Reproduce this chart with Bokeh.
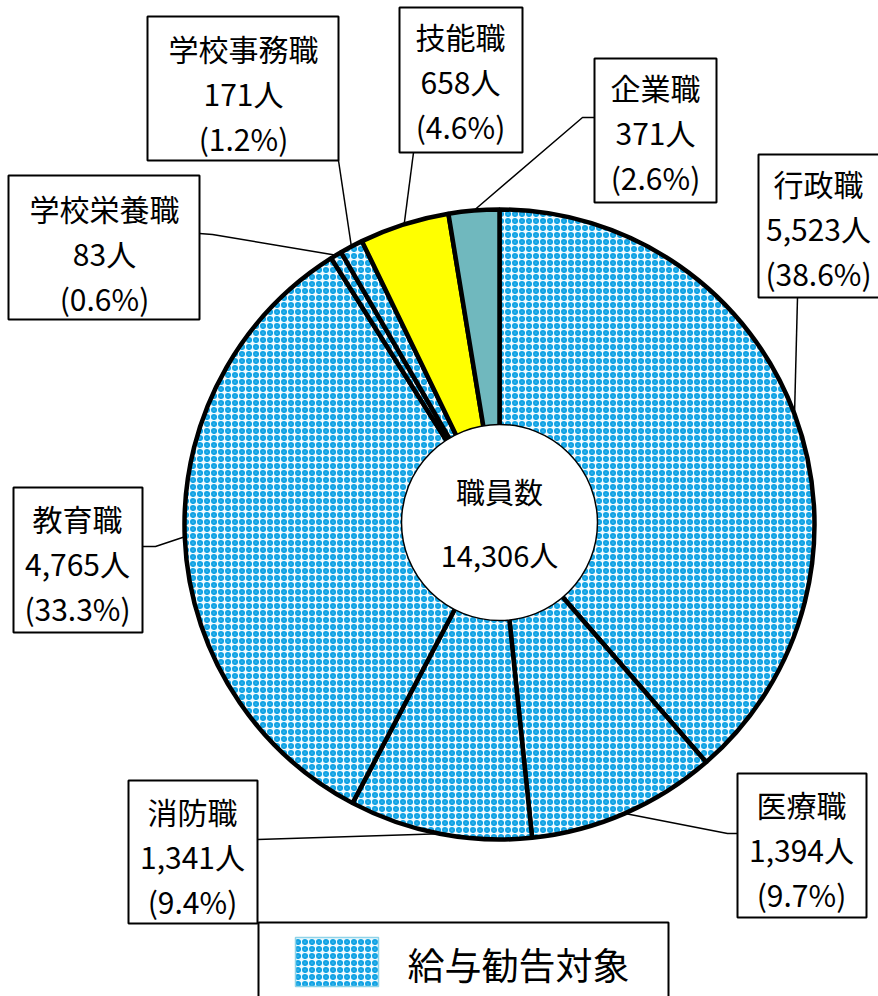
import math
from bokeh.plotting import figure
from bokeh.models import Range1d, ColumnDataSource
from bokeh.core.properties import value
from bokeh.embed import file_html
from bokeh.resources import INLINE

# ---------------- data ----------------
categories = ["行政職", "医療職", "消防職", "教育職", "学校栄養職", "学校事務職", "技能職", "企業職"]
counts = [5523, 1394, 1341, 4765, 83, 171, 658, 371]
percents = [38.6, 9.7, 9.4, 33.3, 0.6, 1.2, 4.6, 2.6]
recommend_target = [True, True, True, True, True, True, False, False]
center_title = "職員数"
total_count = 14306
legend_label = "給与勧告対象"

# ---------------- layout (image pixel coords) ----------------
W, H = 878, 996
def X(px): return px
def Y(py): return H - py

CX, CY = 499, 524          # pie centre
R_OUT = 315                 # pie radius
R_IN = 98                   # white centre circle

FONT = "Noto Sans CJK JP"
PATTERN_FILL = "#F0FAFE"
PATTERN_DOT = "#12A3E4"
HATCH = dict(hatch_color=PATTERN_DOT, hatch_scale=7, hatch_weight=2.6)
OTHER_COLORS = {"技能職": "#FFFF00", "企業職": "#70B8BE"}

label_layout = {
    "行政職":   dict(box=(758, 154, 884, 297), tx=818, ty=182, anchor=[(797, 297)]),
    "医療職":   dict(box=(737, 773, 866, 917), tx=801, ty=803, anchor=[(737, 833), (727, 833)]),
    "消防職":   dict(box=(128, 780, 257, 923), tx=192, ty=810, anchor=[(257, 839)]),
    "教育職":   dict(box=(13, 487, 142, 632), tx=77, ty=517, anchor=[(142, 546), (155, 546)]),
    "学校栄養職": dict(box=(8, 175, 199, 319), tx=104, ty=207, anchor=[(199, 233), (212, 234)]),
    "学校事務職": dict(box=(147, 16, 338, 160), tx=243, ty=47, anchor=[(338, 160)]),
    "技能職":   dict(box=(399, 7, 522, 152), tx=460, ty=35, anchor=[(413, 152)]),
    "企業職":   dict(box=(594, 58, 716, 202), tx=655, ty=86, anchor=[(594, 117), (582, 117)]),
}
LINE_GAP = 45

p = figure(width=W, height=H, x_range=Range1d(0, W), y_range=Range1d(0, H),
           output_backend="svg", toolbar_location=None, min_border=0,
           background_fill_color="white", border_fill_color="white")
p.axis.visible = False
p.grid.visible = False
p.outline_line_color = None

total = sum(counts)
starts, ends, mids = [], [], []
cum = 0
for c in counts:
    a0 = math.pi / 2 - 2 * math.pi * cum / total
    cum += c
    a1 = math.pi / 2 - 2 * math.pi * cum / total
    starts.append(a0); ends.append(a1); mids.append((a0 + a1) / 2)

fills = [PATTERN_FILL if t else OTHER_COLORS[c] for c, t in zip(categories, recommend_target)]
hatches = ["ring" if t else " " for t in recommend_target]

# leader lines
for cat, mid in zip(categories, mids):
    lay = label_layout[cat]
    px = CX + R_OUT * math.cos(mid)
    py = CY - R_OUT * math.sin(mid)
    pts = lay["anchor"] + [(px, py)]
    p.line([X(a) for a, b in pts], [Y(b) for a, b in pts], line_color="black", line_width=1.5)

src = ColumnDataSource(dict(start=starts, end=ends, fill=fills, hatch=hatches))
p.wedge(x=X(CX), y=Y(CY), radius=R_OUT, start_angle="start", end_angle="end",
        direction="clock", source=src, fill_color="fill", hatch_pattern="hatch",
        line_color="black", line_width=4.5, **HATCH)

# centre circle
p.circle(x=[X(CX)], y=[Y(CY - 2)], radius=R_IN, fill_color="white",
         line_color="black", line_width=1.5)
p.text(x=[X(CX)] * 2, y=[Y(490), Y(553)],
       text=[center_title, f"{total_count:,}人"],
       text_align="center", text_baseline="middle", text_font=value(FONT),
       text_font_size="29px", text_color="black")

# label boxes and texts
for cat, cnt, pct in zip(categories, counts, percents):
    lay = label_layout[cat]
    l, t, r, b = lay["box"]
    p.quad(left=X(l), right=X(r), top=Y(t), bottom=Y(b), fill_color="white",
           line_color="black", line_width=2)
    lines = [cat, f"{cnt:,}人", f"({pct}%)"]
    p.text(x=[X(lay["tx"])] * 3, y=[Y(lay["ty"] + i * LINE_GAP) for i in range(3)],
           text=lines, text_align="center", text_baseline="middle",
           text_font=value(FONT), text_font_size="30px", text_color="black")

# legend
p.quad(left=X(258), right=X(668), top=Y(922), bottom=Y(1010), fill_color="white",
       line_color="black", line_width=2)
p.quad(left=X(295), right=X(378), top=Y(937), bottom=Y(986), fill_color=PATTERN_FILL,
       hatch_pattern="ring", line_color="#8FD3E8", line_width=1.5, **HATCH)
p.text(x=[X(407)], y=[Y(963)], text=[legend_label], text_align="left",
       text_baseline="middle", text_font=value(FONT), text_font_size="37px",
       text_color="black")

open("out.html", "w").write(file_html(p, INLINE))
